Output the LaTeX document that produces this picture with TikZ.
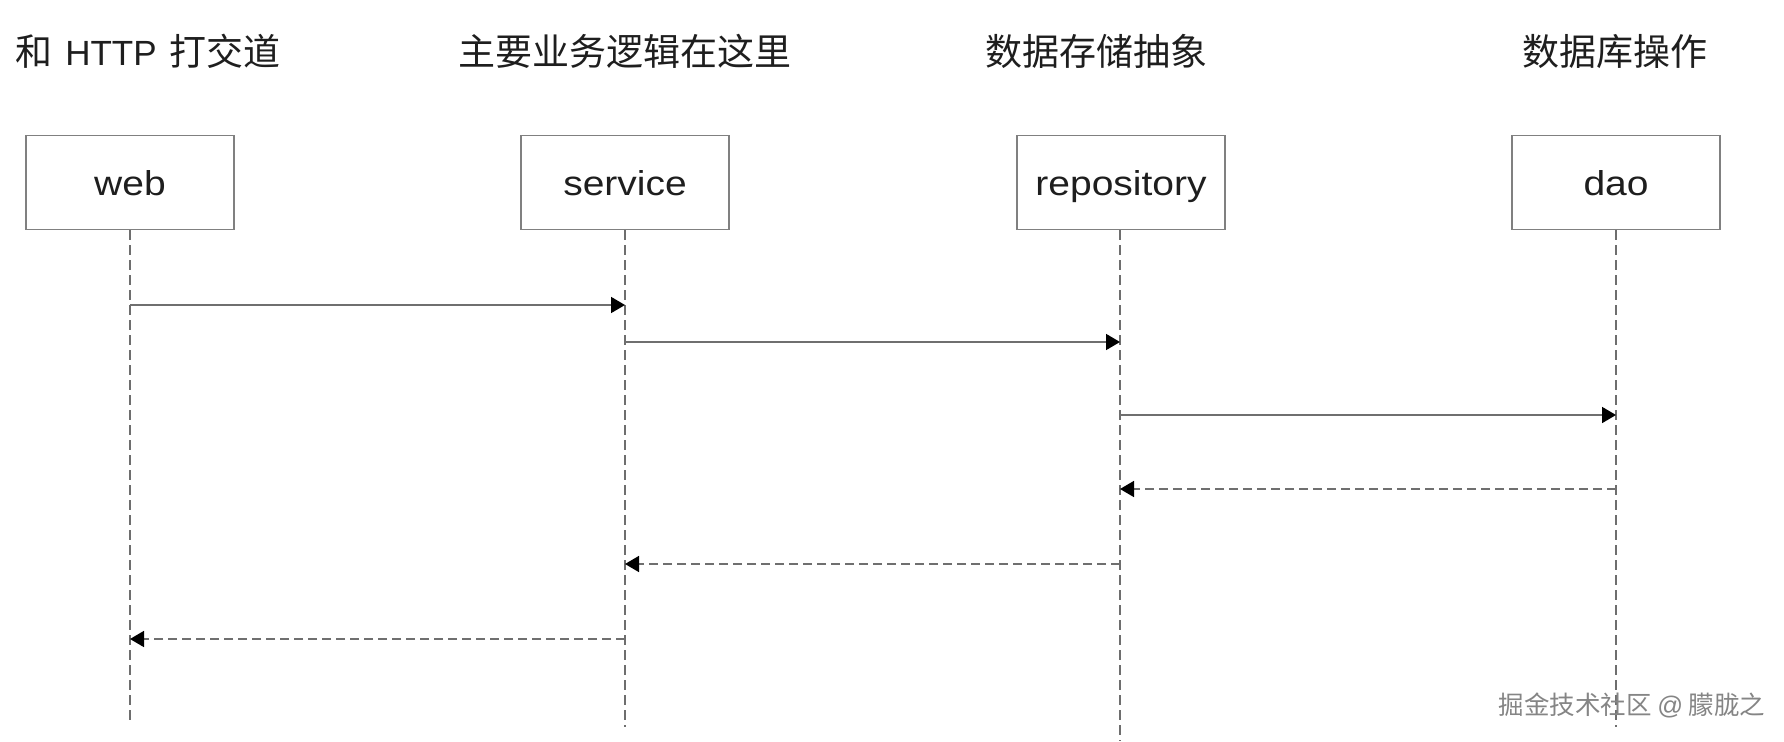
\documentclass[tikz,border=0pt]{standalone}
\usepackage{fontspec}
\setmainfont{Liberation Sans}
\newfontfamily\cjk{Noto Sans CJK SC}
\newfontfamily\lab{Liberation Sans}[FakeStretch=1.13]
\usetikzlibrary{arrows.meta}
\definecolor{boxline}{HTML}{808080}
\definecolor{lifeline}{HTML}{6E6E6E}
\definecolor{msgline}{HTML}{6F6F6F}
\definecolor{wmark}{HTML}{858585}
\definecolor{ink}{HTML}{1E1E1E}
\begin{document}
\begin{tikzpicture}[x=1pt,y=-1pt,
  actor/.style={draw=boxline,line width=1.4pt,fill=white,minimum width=208pt,minimum height=94pt,inner sep=0pt},
  actortext/.style={anchor=base,text=ink,font=\lab\fontsize{34.5}{40}\selectfont,inner sep=0pt},
  title/.style={anchor=base,text=ink,font=\cjk\fontsize{37}{44}\selectfont,inner sep=0pt},
  life/.style={draw=lifeline,line width=1.2pt,dash pattern=on 10pt off 5pt},
  call/.style={draw=msgline,line width=1.7pt,-{Triangle[length=14pt,width=16pt,color=black]}},
  reply/.style={draw=msgline,line width=1.7pt,dash pattern=on 9pt off 5pt,-{Triangle[length=14pt,width=16pt,color=black]}}
]
\useasboundingbox (0,0) rectangle (1784,741);

% titles
\node[title] (t1) at (148,66) {和\hspace{13pt}{\fontspec{Liberation Sans}\fontsize{35}{42}\selectfont HTTP}\hspace{13pt}打交道};
\node[title] (t2) at (625,66) {主要业务逻辑在这里};
\node[title] (t3) at (1096,66) {数据存储抽象};
\node[title] (t4) at (1615,66) {数据库操作};

% lifeline coordinates
\coordinate (webEnd) at (130,722);
\coordinate (svcEnd) at (625,727);
\coordinate (repEnd) at (1120,741);
\coordinate (daoEnd) at (1616,727);

% actor boxes
\node[actor] (web) at (130,182.5) {};
\node[actor] (svc) at (625,182.5) {};
\node[actor] (rep) at (1121,182.5) {};
\node[actor] (dao) at (1616,182.5) {};
\node[actortext] (webl) at (130,195) {web};
\node[actortext] (svcl) at (625,195) {service};
\node[actortext] (repl) at (1121,195) {repository};
\node[actortext] (daol) at (1616,195) {dao};

% lifelines
\draw[life] (web.south) -- (webEnd);
\draw[life] (svc.south) -- (svcEnd);
\draw[life] (rep.south -| repEnd) -- (repEnd);
\draw[life] (dao.south) -- (daoEnd);

% message points
\coordinate (m1a) at (130,305);  \coordinate (m1b) at (625,305);
\coordinate (m2a) at (625,342);  \coordinate (m2b) at (1120,342);
\coordinate (m3a) at (1120,415); \coordinate (m3b) at (1616,415);
\coordinate (m4a) at (1616,489); \coordinate (m4b) at (1120,489);
\coordinate (m5a) at (1120,564); \coordinate (m5b) at (625,564);
\coordinate (m6a) at (625,639);  \coordinate (m6b) at (130,639);

\draw[call] (m1a) -- (m1b);
\draw[call] (m2a) -- (m2b);
\draw[call] (m3a) -- (m3b);
\draw[reply] (m4a) -- (m4b);
\draw[reply] (m5a) -- (m5b);
\draw[reply] (m6a) -- (m6b);

% watermark
\node[text=wmark,font=\cjk\fontsize{25.5}{30}\selectfont,inner sep=0pt] (wm) at (1632,705) {掘金技术社区 {\fontspec{Liberation Sans}@} 朦胧之};
\end{tikzpicture}
\end{document}
